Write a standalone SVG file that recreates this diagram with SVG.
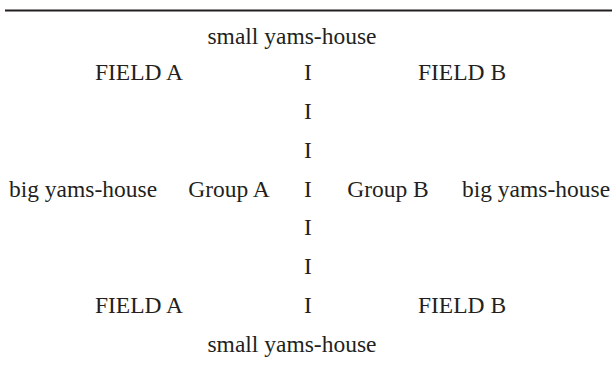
<svg xmlns="http://www.w3.org/2000/svg" width="612" height="365" viewBox="0 0 612 365">
<style>
text{font-family:"Liberation Serif","Times New Roman",serif;font-size:23.5px;fill:#231f20;text-anchor:middle}
</style>
<rect width="612" height="365" fill="#fff"/>
<line x1="5" y1="10.5" x2="612" y2="10.5" stroke="#231f20" stroke-width="2"/>
<g id="top-house"><text x="292" y="44">small yams-house</text></g>
<g id="field-a-top"><text x="139" y="80">FIELD A</text></g>
<g id="field-b-top"><text x="462" y="80">FIELD B</text></g>
<g id="divider">
<text x="308" y="80">I</text>
<text x="308" y="119">I</text>
<text x="308" y="158">I</text>
<text x="308" y="197">I</text>
<text x="308" y="235">I</text>
<text x="308" y="274">I</text>
<text x="308" y="313">I</text>
</g>
<g id="big-house-left"><text x="83" y="197">big yams-house</text></g>
<g id="group-a"><text x="229" y="197">Group A</text></g>
<g id="group-b"><text x="388" y="197">Group B</text></g>
<g id="big-house-right"><text x="536" y="197">big yams-house</text></g>
<g id="field-a-bottom"><text x="139" y="313">FIELD A</text></g>
<g id="field-b-bottom"><text x="462" y="313">FIELD B</text></g>
<g id="bottom-house"><text x="292" y="352">small yams-house</text></g>
</svg>
